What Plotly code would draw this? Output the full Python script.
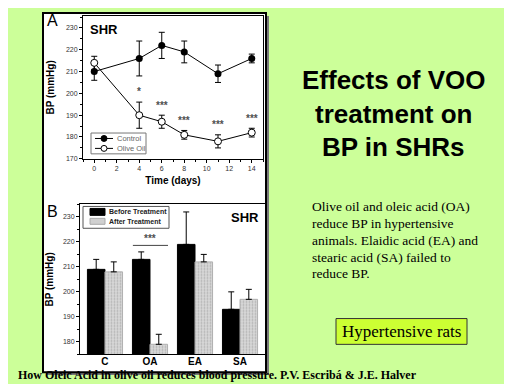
import plotly.graph_objects as go

W, H = 512, 384
def px(x): return x / W
def py(y): return 1 - y / H

# ---- Panel A data (time course) ----
days = [0, 4, 6, 8, 11, 14]
control_bp = [210, 216, 222, 219, 209, 216]
control_err = [4, 8, 6, 5, 4, 2]
olive_bp = [214, 190, 187, 181, 178, 182]
olive_err = [3, 6, 3, 2, 3, 2]
sig_days = [4, 6, 8, 11, 14]
sig_marks = ["*", "***", "***", "***", "***"]
sig_y = [201, 194.3, 187.5, 185.6, 188.5]

# ---- Panel B data (bars) ----
groups = ["C", "OA", "EA", "SA"]
before_bp = [209, 213, 219, 193]
before_err = [4, 3, 13, 7]
after_bp = [208, 179, 212, 197]
after_err = [4, 4, 3, 4]

BG = "#ccff99"
TICKFONT = dict(family="Arial", size=7, color="#333333")

fig = go.Figure()

# Panel A traces
fig.add_trace(go.Scatter(
    x=days, y=control_bp, mode="lines+markers", name="Control",
    line=dict(color="black", width=1),
    marker=dict(symbol="circle", size=7, color="black"),
    error_y=dict(type="data", array=control_err, width=3, thickness=1, color="black"),
    xaxis="x", yaxis="y", showlegend=False))
fig.add_trace(go.Scatter(
    x=days, y=olive_bp, mode="lines+markers", name="Olive Oil",
    line=dict(color="black", width=1),
    marker=dict(symbol="circle", size=7, color="white", line=dict(color="black", width=1)),
    error_y=dict(type="data", array=olive_err, width=3, thickness=1, color="black"),
    xaxis="x", yaxis="y", showlegend=False))

# Panel B traces
fig.add_trace(go.Bar(
    x=groups, y=before_bp, name="Before Treatment",
    marker=dict(color="black", line=dict(color="black", width=1)),
    error_y=dict(type="data", symmetric=False, array=before_err,
                 arrayminus=[0] * len(before_err), width=3, thickness=1, color="black"),
    xaxis="x2", yaxis="y2", showlegend=False))
fig.add_trace(go.Bar(
    x=groups, y=after_bp, name="After Treatment",
    marker=dict(color="#d4d4d4", line=dict(color="#b0b0b0", width=1),
                pattern=dict(shape=".", fgcolor="#8c8c8c", bgcolor="#d8d8d8", size=3, solidity=0.3)),
    error_y=dict(type="data", symmetric=False, array=after_err,
                 arrayminus=[0] * len(after_err), width=3, thickness=1, color="black"),
    xaxis="x2", yaxis="y2", showlegend=False))

axis_common = dict(showline=True, linecolor="black", linewidth=1, mirror=True,
                   ticks="outside", ticklen=3, tickcolor="black", showgrid=False,
                   zeroline=False, tickfont=TICKFONT)

fig.update_layout(
    width=W, height=H, autosize=False,
    margin=dict(l=0, r=0, t=0, b=0),
    paper_bgcolor=BG, plot_bgcolor="white",
    barmode="group", bargap=0.22, bargroupgap=0,
    xaxis=dict(domain=[px(75), px(255)], anchor="y", range=[-1, 15],
               tickvals=[0, 2, 4, 6, 8, 10, 12, 14],
               minor=dict(dtick=1, ticks="outside", ticklen=2, tickcolor="black"),
               title=dict(text="<b>Time (days)</b>", font=dict(family="Arial", size=10, color="black"), standoff=5),
               **axis_common),
    yaxis=dict(domain=[py(152), py(8)], anchor="x", range=[170, 235.5],
               tickvals=[170, 180, 190, 200, 210, 220, 230],
               minor=dict(dtick=5, ticks="outside", ticklen=2, tickcolor="black"),
               title=dict(text="<b>BP (mmHg)</b>", font=dict(family="Arial", size=10, color="black"), standoff=9),
               **axis_common),
    xaxis2=dict(domain=[px(72), px(257)], anchor="y2",
                range=[-0.555, 3.555], ticklabelstandoff=-2,
                **{**axis_common, "tickfont": dict(family="Arial", size=10, color="black"), "ticks": ""}),
    yaxis2=dict(domain=[py(349), py(198)], anchor="x2", range=[175, 235],
                tickvals=[180, 190, 200, 210, 220, 230],
                minor=dict(dtick=5, ticks="outside", ticklen=2, tickcolor="black"),
                title=dict(text="<b>BP (mmHg)</b>", font=dict(family="Arial", size=10, color="black"), standoff=7),
                **axis_common),
)
fig.update_xaxes(tickprefix="<b>", ticksuffix="</b>")
fig.update_yaxes(tickprefix="<b>", ticksuffix="</b>")

shapes = []
# white panel with shadow
shapes.append(dict(type="rect", xref="paper", yref="paper", x0=px(38), x1=px(261), y0=py(370), y1=py(8),
                   fillcolor="#7a7a7a", line=dict(width=0), layer="below"))
shapes.append(dict(type="rect", xref="paper", yref="paper", x0=px(35), x1=px(258), y0=py(367), y1=py(5),
                   fillcolor="white", line=dict(color="black", width=2), layer="below"))
# Legend A box
shapes.append(dict(type="rect", xref="paper", yref="paper", x0=px(83), x1=px(138), y0=py(147), y1=py(126),
                   fillcolor="white", line=dict(color="#777777", width=1)))
for yy, filled in [(131.5, True), (141.5, False)]:
    shapes.append(dict(type="line", xref="paper", yref="paper", x0=px(87), x1=px(105), y0=py(yy), y1=py(yy),
                       line=dict(color="black", width=1)))
    shapes.append(dict(type="circle", xref="paper", yref="paper", x0=px(93), x1=px(99), y0=py(yy + 3), y1=py(yy - 3),
                       fillcolor="black" if filled else "white", line=dict(color="black", width=1)))
# Legend B box
shapes.append(dict(type="rect", xref="paper", yref="paper", x0=px(75), x1=px(161), y0=py(222), y1=py(200),
                   fillcolor="white", line=dict(color="#555555", width=1)))
shapes.append(dict(type="rect", xref="paper", yref="paper", x0=px(82), x1=px(97), y0=py(209), y1=py(202),
                   fillcolor="black", line=dict(color="black", width=1)))
shapes.append(dict(type="rect", xref="paper", yref="paper", x0=px(82), x1=px(97), y0=py(218), y1=py(212),
                   fillcolor="#d0d0d0", line=dict(color="#aaaaaa", width=1)))
# significance line on panel B (OA)
shapes.append(dict(type="line", xref="x2", yref="y2", x0=0.62, x1=1.40, y0=218.6, y1=218.6,
                   line=dict(color="#444444", width=1)))
# Hypertensive rats box
shapes.append(dict(type="rect", xref="paper", yref="paper", x0=px(328), x1=px(459), y0=py(339), y1=py(313),
                   fillcolor="#ccff33", line=dict(color="#333333", width=1)))

annotations = []
def ann(text, x, y, size, family="Arial", color="black", xanchor="center", yanchor="middle", xref="paper", yref="paper"):
    annotations.append(dict(text=text, x=px(x) if xref == "paper" else x, y=py(y) if yref == "paper" else y,
                            xref=xref, yref=yref, showarrow=False, xanchor=xanchor, yanchor=yanchor,
                            font=dict(family=family, size=size, color=color)))

# significance asterisks
for d, m, yv in zip(sig_days, sig_marks, sig_y):
    ann("<b>" + m + "</b>", d, yv, 10, color="#505050", xref="x", yref="y")
ann("<b>***</b>", 1.0, 221.5, 10, color="#505050", xref="x2", yref="y2")

ann("A", 37, 13, 16, xanchor="left")
ann("B", 37, 205, 16, xanchor="left")
ann("<b>SHR</b>", 80, 22, 13, xanchor="left")
ann("<b>SHR</b>", 253, 211, 13, xanchor="right")
ann("Control", 107, 131.5, 7.5, color="#666666", xanchor="left")
ann("Olive Oil", 107, 141.5, 7.5, color="#666666", xanchor="left")
ann("<b>Before Treatment</b>", 99, 205.5, 7, color="#222222", xanchor="left")
ann("<b>After Treatment</b>", 99, 215, 7, color="#222222", xanchor="left")

for t, yy in [("Effects of VOO", 73), ("treatment on", 107), ("BP in SHRs", 140)]:
    ann("<b>" + t + "</b>", 385, yy, 26)

para = ["Olive oil and oleic acid (OA)", "reduce BP in hypertensive",
        "animals. Elaidic acid (EA) and", "stearic acid (SA) failed to", "reduce BP."]
for i, t in enumerate(para):
    ann(t, 302, 200 + i * 17, 13.5, family="Liberation Serif", xanchor="left")

ann("Hypertensive rats", 393.5, 326, 17, family="Liberation Serif")
ann("<b>How Oleic Acid in olive oil reduces blood pressure. P.V. Escribá &amp; J.E. Halver</b>",
    8, 379, 12, family="Liberation Serif", xanchor="left", yanchor="bottom")

fig.update_layout(shapes=shapes, annotations=annotations)
fig.write_html("out.html")
